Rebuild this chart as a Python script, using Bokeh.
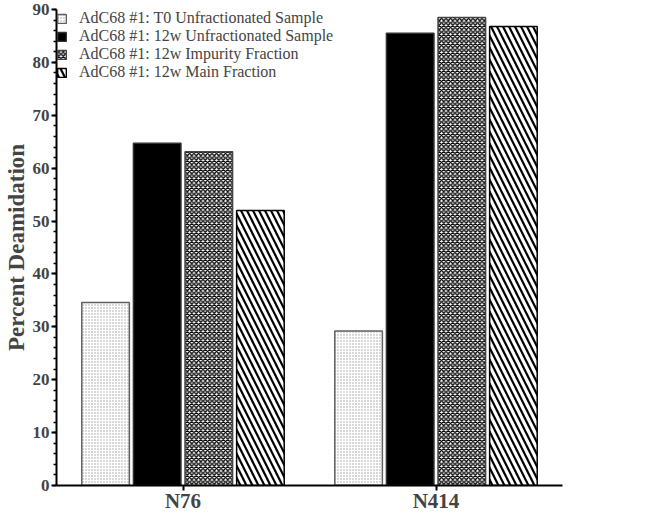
from bokeh.plotting import figure
from bokeh.models import ColumnDataSource, FactorRange, Range1d, SingleIntervalTicker, Legend, LegendItem
from bokeh.transform import dodge
from bokeh.embed import file_html
from bokeh.resources import INLINE

categories = ["N76", "N414"]
series_names = [
    "AdC68 #1: T0 Unfractionated Sample",
    "AdC68 #1: 12w Unfractionated Sample",
    "AdC68 #1: 12w Impurity Fraction",
    "AdC68 #1: 12w Main Fraction",
]
t0_unfrac = [34.6, 29.2]
w12_unfrac = [64.7, 85.5]
w12_impurity = [63.1, 88.5]
w12_main = [52.0, 86.8]
y_ticks_interval = 10

source = ColumnDataSource(dict(cat=categories, s0=t0_unfrac, s1=w12_unfrac, s2=w12_impurity, s3=w12_main))

FONT = "Liberation Serif"

p = figure(width=655, height=515, x_range=FactorRange(*categories), y_range=Range1d(0, 90),
           output_backend="svg", toolbar_location=None,
           min_border_left=45, min_border_right=93, min_border_top=9, min_border_bottom=0)
p.outline_line_color = None
p.xgrid.grid_line_color = None
p.ygrid.grid_line_color = None

offsets = [-0.306, -0.102, 0.102, 0.306]
width = 0.188
styles = [
    dict(fill_color="white", line_color="#606060", hatch_pattern="dot", hatch_color="#a0a0a0", hatch_scale=3, hatch_weight=0.7),
    dict(fill_color="black", line_color="#333333"),
    dict(fill_color="white", line_color="#444444", hatch_pattern="diagonal_cross", hatch_color="black", hatch_scale=4.5, hatch_weight=1.4),
    dict(fill_color="white", line_color="black", hatch_pattern="left_diagonal_line", hatch_color="black", hatch_scale=12, hatch_weight=2.2),
]
items = []
for i, (col, name) in enumerate(zip(["s0", "s1", "s2", "s3"], series_names)):
    r = p.vbar(x=dodge("cat", offsets[i], range=p.x_range), top=col, width=width, bottom=0,
               source=source, line_width=1.5, **styles[i])
    items.append(LegendItem(label=name, renderers=[r]))

legend = Legend(items=items, location="top_left", label_text_font=FONT, label_text_font_size="16px",
                glyph_width=11, glyph_height=11, label_height=16, spacing=0, label_standoff=12,
                padding=6, margin=0, border_line_color=None, background_fill_alpha=0)
p.add_layout(legend)

ya = p.yaxis[0]
ya.ticker = SingleIntervalTicker(interval=y_ticks_interval, num_minor_ticks=5)
ya.axis_label = "Percent Deamidation"
ya.axis_label_text_font = FONT
ya.axis_label_text_font_style = "bold"
ya.axis_label_text_font_size = "23px"
ya.axis_label_standoff = 1
ya.major_label_text_font = FONT
ya.major_label_text_font_style = "bold"
ya.major_label_text_font_size = "17px"
ya.major_label_standoff = 2
ya.axis_line_width = 2
ya.major_tick_line_width = 2
ya.major_tick_in = 0
ya.major_tick_out = 5
ya.minor_tick_in = 0
ya.minor_tick_out = 3
ya.minor_tick_line_width = 1.5

xa = p.xaxis[0]
xa.major_label_text_font = FONT
xa.major_label_text_font_style = "bold"
xa.major_label_text_font_size = "21px"
xa.major_label_standoff = -2
xa.axis_line_width = 2
xa.major_tick_line_width = 2
xa.major_tick_in = 0
xa.major_tick_out = 5
xa.minor_tick_line_color = None

open("out.html", "w").write(file_html(p, INLINE))
